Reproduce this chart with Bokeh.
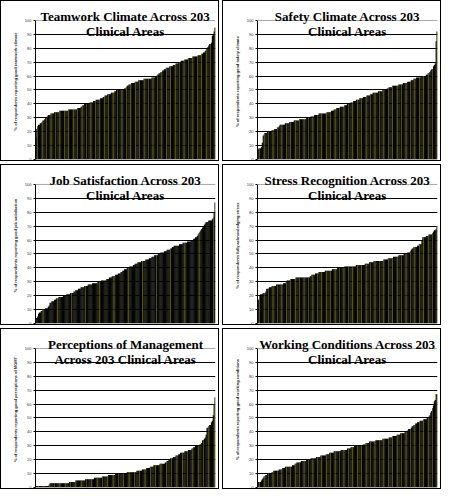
from bokeh.plotting import figure
from bokeh.layouts import column, row
from bokeh.models import Label, Span, FixedTicker, Range1d
from bokeh.embed import file_html
from bokeh.resources import INLINE

# ---- data: % of respondents per clinical area (203 areas, sorted) ----
teamwork = [16, 22, 24, 25, 25, 26, 26, 27, 28, 28, 29, 30, 30, 31, 32, 32, 32, 33, 33, 33,
            33, 34, 34, 34, 34, 34, 34,
            35, 35, 35, 35, 35, 35, 35, 35,
            35, 35, 36, 36, 36, 36, 36, 36, 36, 36, 36, 36, 37, 37, 37,
            37, 38, 38, 39, 39, 40, 40, 40,
            40, 40, 40, 41, 41, 41, 41,
            42, 42, 42, 43, 43, 43, 43, 43,
            44, 44, 44, 45, 45, 46, 46, 46,
            47, 47, 47, 47, 48, 48, 48, 48, 49, 49,
            50, 50, 50, 50, 50, 50, 50, 50, 50, 51, 51,
            52, 53, 53, 54, 54, 54,
            55, 55, 55, 55, 56, 56, 56, 56, 57,
            57, 57, 57, 57, 57, 58, 58, 58, 58, 58, 58, 58, 58, 58, 59,
            59, 59, 59, 60, 60, 61, 61, 62,
            62, 63, 63, 64, 64, 65, 65, 66, 66, 66, 66,
            67, 67, 67, 67, 68, 68, 68, 69, 69, 69, 70,
            70, 70, 71, 71, 71, 71, 72, 72,
            72, 72, 73, 73, 73, 73, 73,
            74, 74, 74, 74, 74, 74, 75, 75, 75, 75,
            76, 76, 77, 77, 78, 79, 80,
            81, 82, 83, 83, 84,
            89, 90, 92, 95]

safety = [7, 8, 8, 8, 9,
          12, 17, 18,
          19, 19, 19, 20, 20, 20, 20, 20,
          21, 21, 21, 22, 22, 22, 23, 23,
          24, 25, 25, 25, 25, 25, 25,
          26, 26, 26, 26, 26, 27,
          27, 27, 27, 27, 28,
          28, 28, 28, 28, 28, 29, 29, 29,
          29, 29, 29, 29, 29, 30, 30,
          30, 30, 30, 31, 31, 31,
          31, 32, 32, 32, 32, 32, 33, 33,
          33, 33, 33, 33, 33, 33, 33, 34, 34, 34, 34, 34,
          35, 35, 35, 36, 36, 36,
          37, 37, 37, 37, 38, 38,
          38, 38, 38, 39, 39, 39,
          40, 40, 40, 40, 41,
          41, 41, 42, 42, 42, 43, 43, 43, 43,
          44, 44, 44, 44, 45, 45, 45,
          45, 46, 46, 46, 46, 47, 47, 47,
          48, 48, 48, 48, 48, 48, 49, 49, 49,
          49, 49, 50, 50, 50, 50, 50, 51, 51, 52,
          52, 52, 52, 53, 53, 53, 53, 53, 53, 53, 54, 54,
          54, 54, 54, 55, 55, 55, 55, 55, 56,
          56, 56, 56, 57, 57, 57, 58, 58, 58, 59,
          59, 59, 59, 59, 60, 60, 60, 60, 60, 60, 61,
          61, 62, 62, 63, 64, 65, 65,
          67, 68, 69, 85, 92]

job_satisfaction = [4, 4, 5,
                    7, 8, 8,
                    9, 9, 10, 10, 10,
                    11, 11, 11, 12, 13, 15,
                    15, 16, 16, 16, 17,
                    17, 18, 18, 18, 19,
                    19, 19, 19, 19, 20, 20,
                    20, 20, 21, 21, 21, 21,
                    22, 22, 22, 22, 23,
                    23, 24, 24, 24, 25, 25, 25,
                    26, 26, 26, 26, 27, 27,
                    27, 27, 28, 28,
                    28, 28, 28, 29, 29,
                    29, 29, 29, 29, 30, 30, 30, 30,
                    31, 31, 31, 31, 31, 31, 32,
                    32, 32, 33, 33, 33, 34,
                    34, 34, 34, 35, 35, 35, 36,
                    36, 36, 37, 37, 38, 38, 39,
                    39, 39, 40, 40, 40, 41,
                    41, 41, 41, 42, 42, 43,
                    43, 43, 44, 44, 44, 44, 45,
                    45, 45, 45, 45, 46, 46, 46,
                    46, 47, 47, 47, 48, 48, 48, 49,
                    49, 49, 49, 50, 50, 50, 51,
                    51, 51, 51, 52, 52, 52, 53,
                    53, 53, 53, 54, 54, 55, 55, 56,
                    56, 56, 56, 56, 56, 57, 57, 57, 57,
                    58, 58, 58, 58, 58, 59,
                    59, 59, 59, 60, 60, 60, 61,
                    61, 62, 62, 63, 64, 65, 66,
                    67, 68, 69, 70, 71, 72, 73, 73,
                    73, 74, 74, 74, 74, 75,
                    76, 80, 87]

stress_recognition = [17, 17, 20,
                      21, 21, 21, 22,
                      22, 22, 23,
                      25, 25, 25,
                      26, 26, 26,
                      27, 27, 27, 27, 27, 28,
                      28, 28, 28, 28, 28, 28, 28, 29,
                      29, 29, 30, 31,
                      31, 31, 31, 32, 32,
                      32, 32, 32, 32, 33,
                      33, 33, 33, 33, 33, 33, 33, 33, 33, 33, 33, 33, 33, 33, 33,
                      34, 34, 35, 35, 35, 35, 36,
                      36, 36, 36, 37, 37,
                      37, 37, 37, 37, 37, 38, 38,
                      38, 38, 38, 38, 38, 38, 39,
                      39, 39, 39, 39, 39, 40, 40,
                      40, 40, 40, 40, 40, 40, 41, 41,
                      41, 41, 41, 41, 41, 41, 41, 41, 41, 41, 41,
                      42, 42, 42, 42, 42, 42, 42, 42, 42,
                      42, 43, 43, 43, 43, 43,
                      44, 44, 44, 44, 44, 45,
                      45, 45, 45, 45, 45, 45, 45, 45, 45, 45,
                      46, 46, 46, 46, 46, 47,
                      47, 47, 47, 47, 47, 48, 48,
                      48, 48, 48, 48, 49, 49,
                      49, 49, 49, 49, 50, 50,
                      50, 50, 51, 51, 51, 52,
                      53, 54, 54, 55, 55,
                      55, 55, 56, 56, 57, 57, 57,
                      60, 62, 62, 62, 62, 63,
                      63, 63, 64, 64, 64, 64,
                      65, 66, 67, 67, 68, 70]

management = [1, 1, 1, 1, 1, 1, 1, 1, 1, 1, 1, 1, 1, 1, 1, 2,
              3, 3, 3, 3, 3, 3, 3, 3, 3, 3, 3, 3, 3, 3, 3, 3, 3, 3, 3, 3, 3, 3,
              4, 4, 4, 4, 4, 4, 4,
              5, 5, 5, 5, 5, 5, 5, 5, 5, 5, 5,
              6, 6, 6, 6, 6, 6, 6, 6, 6, 6,
              7, 7, 7, 7, 7, 7, 7, 7, 7,
              8, 8, 8, 8, 8, 8, 8,
              9, 9, 9, 9, 9, 9, 9, 9,
              10, 10, 10, 10, 10, 10, 10, 10, 10, 10, 10, 10, 10,
              11, 11, 11, 11, 11, 11, 11, 11, 11, 11, 11,
              12, 12, 12, 12, 12, 12,
              13, 13, 13, 13, 13,
              14, 14, 14, 14,
              15, 15, 15, 15,
              16, 16, 16, 16, 16, 16, 16,
              17, 17, 17, 17, 17, 17,
              18, 18, 19,
              19, 20, 20, 21,
              21, 21, 22, 22,
              22, 23, 23, 23,
              24, 24, 25, 25,
              25, 25, 25, 26, 26,
              26, 26, 27, 27,
              27, 27, 28, 28,
              29, 29, 30, 30,
              30, 30, 30, 31, 31,
              32, 34, 34, 35, 36,
              38, 43, 43, 44, 45,
              45, 47, 48, 52, 60, 65]

working_conditions = [4, 4, 4, 4, 5,
                      6, 7, 8,
                      8, 9, 9,
                      10, 10, 10, 10, 10, 11,
                      11, 12, 12, 12, 12, 12, 12,
                      13, 13, 13, 13,
                      14, 14, 14, 15,
                      15, 15, 15, 15, 15, 15, 15,
                      16, 16, 16, 17, 17,
                      18, 18, 18, 18, 18, 19,
                      19, 19, 19, 19, 19, 20,
                      20, 20, 20, 20, 21,
                      21, 21, 21, 21, 21, 22,
                      22, 22, 22, 22, 23, 23,
                      23, 23, 23, 23, 24,
                      24, 24, 24, 25,
                      25, 25, 25, 25, 26, 26,
                      26, 26, 26, 26, 26, 26, 27,
                      27, 27, 27, 27, 27, 27, 28,
                      28, 28, 28, 29,
                      29, 29, 29, 30,
                      30, 30, 30, 30, 30, 30, 30, 30, 30,
                      31, 31, 31, 32,
                      32, 32, 32, 33,
                      33, 33, 33, 33, 33, 33, 34,
                      34, 34, 34, 34, 34, 34, 34,
                      35, 35, 35, 35, 35, 35, 35, 36,
                      36, 36, 36, 37,
                      37, 37, 37, 37, 38,
                      38, 38, 38, 39,
                      39, 39, 39, 39, 40,
                      40, 40, 41, 42,
                      42, 42, 43, 44,
                      44, 45, 45, 46,
                      46, 47, 47, 47,
                      48, 48, 48, 48,
                      49, 49, 49, 49, 50,
                      50, 51, 52, 54, 55,
                      57, 59, 62, 63, 67, 67]

titles = [("Teamwork Climate Across 203", "Clinical Areas"),
          ("Safety Climate Across 203", "Clinical Areas"),
          ("Job Satisfaction Across 203", "Clinical Areas"),
          ("Stress Recognition Across 203", "Clinical Areas"),
          ("Perceptions of Management", "Across 203 Clinical Areas"),
          ("Working Conditions Across 203", "Clinical Areas")]

y_labels = ["% of respondents reporting good teamwork climate",
            "% of respondents reporting good safety climate",
            "% of respondents reporting good job satisfaction",
            "% of respondents fully acknowledging stress",
            "% of respondents reporting good perceptions of MGMT",
            "% of respondents reporting good working conditions"]

y_ticks = list(range(0, 101, 10))

series = [teamwork, safety, job_satisfaction, stress_recognition, management, working_conditions]
stripes = [5, 5, 16, 5, 6, 5]

Y_TOP = 112.2  # frame extends above 100 so the title can sit inside it


def panel(vals, title, ylab, stripe):
    n = len(vals)
    xs = list(range(1, n + 1))
    sx = [x for i, x in enumerate(xs) if i % stripe == stripe // 2]
    sv = [v for i, v in enumerate(vals) if i % stripe == stripe // 2]
    p = figure(width=219, height=161, output_backend="svg", toolbar_location=None,
               x_range=Range1d(0.5, n + 0.5), y_range=Range1d(0, Y_TOP),
               min_border_left=34, min_border_right=5, min_border_top=2, min_border_bottom=3,
               tools="")
    p.styles = {"border": "1px solid black"}
    p.outline_line_color = None
    p.background_fill_color = "white"
    p.xaxis.visible = False
    p.xgrid.visible = False
    p.ygrid.ticker = FixedTicker(ticks=y_ticks[1:-1])
    p.ygrid.grid_line_color = "black"
    p.ygrid.grid_line_width = 1
    p.add_layout(Span(location=y_ticks[-1], dimension="width", line_color="#a8a8a8", line_width=1))
    p.vbar(x=xs, top=vals, width=1.35, fill_color="#050500", line_color=None)
    p.vbar(x=sx, top=sv, width=0.6, fill_color="#8f8f18", line_color=None)
    ax = p.yaxis[0]
    ax.ticker = FixedTicker(ticks=y_ticks)
    ax.bounds = (y_ticks[0], y_ticks[-1])
    ax.major_label_text_font_size = "4px"
    ax.major_label_text_font = "Liberation Sans"
    ax.major_label_text_color = "#333333"
    ax.major_label_standoff = 2
    ax.major_tick_out = 2
    ax.major_tick_in = 0
    ax.minor_tick_out = 0
    ax.minor_tick_in = 0
    ax.axis_line_color = "black"
    ax.axis_label = ylab
    ax.axis_label_text_font = "Liberation Sans"
    ax.axis_label_text_font_size = "4px"
    ax.axis_label_text_font_style = "bold"
    ax.axis_label_text_color = "#222222"
    ax.axis_label_standoff = 4
    cx = (n + 1) / 2
    for txt, yy in ((title[0], 102.9), (title[1], 92.3)):
        p.add_layout(Label(x=cx, y=yy, text=txt, text_align="center",
                           text_baseline="alphabetic", text_font="Liberation Serif",
                           text_font_style="bold", text_font_size="13px", text_color="black"))
    return p


figs = [panel(v, t, yl, s) for v, t, yl, s in zip(series, titles, y_labels, stripes)]
layout = column(row(figs[0], figs[1], spacing=3),
                row(figs[2], figs[3], spacing=3),
                row(figs[4], figs[5], spacing=3), spacing=3)

open("out.html", "w").write(file_html(layout, INLINE))
